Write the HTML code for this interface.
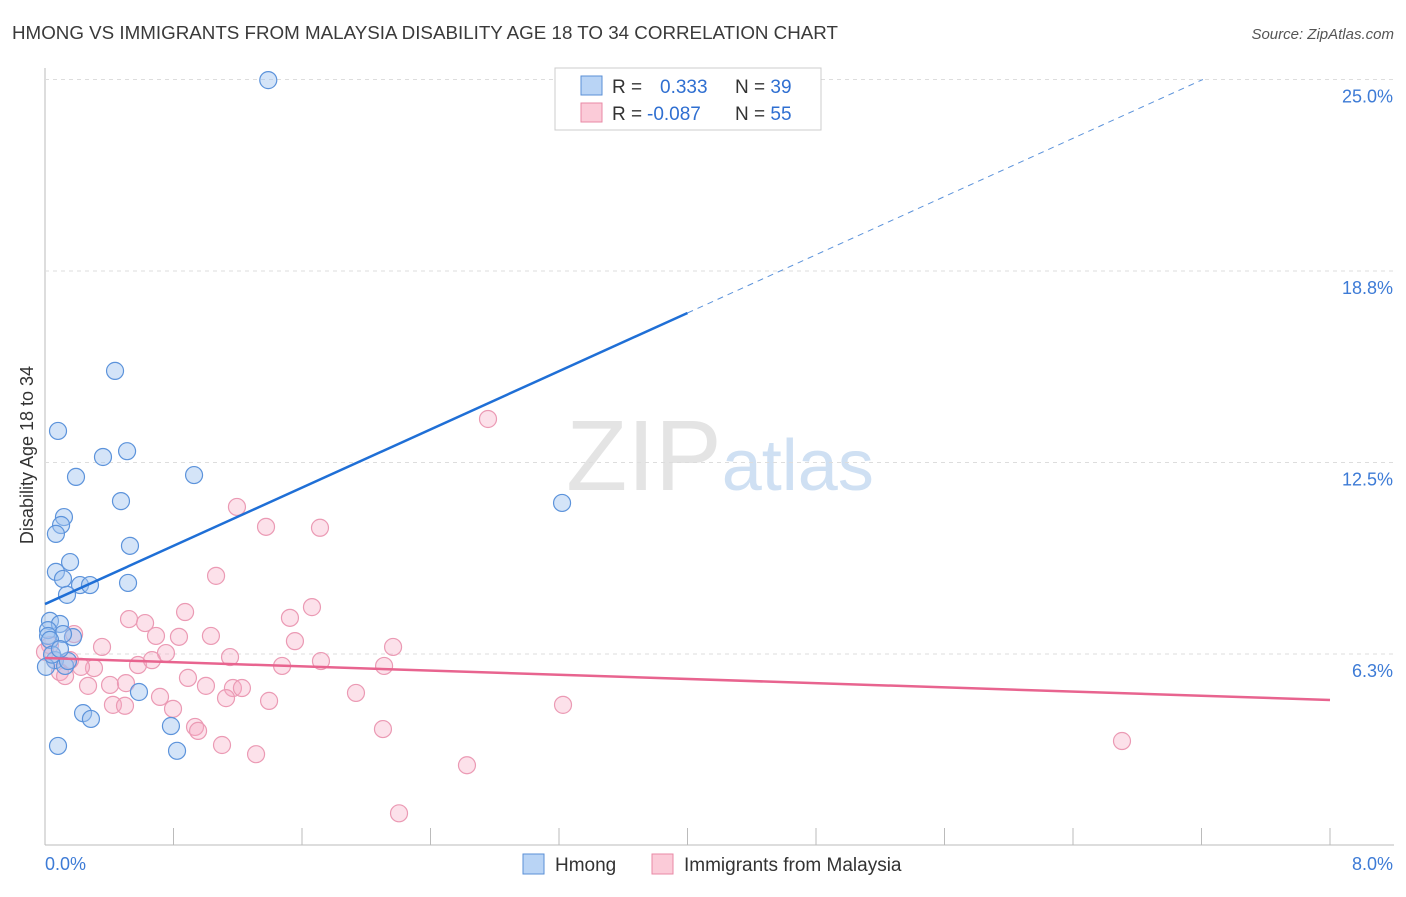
<!DOCTYPE html>
<html><head><meta charset="utf-8"><style>
body{margin:0;background:#fff;font-family:"Liberation Sans",sans-serif;}
svg text{font-family:"Liberation Sans",sans-serif;}
</style></head><body>
<svg id="chart" width="1406" height="892" xmlns="http://www.w3.org/2000/svg">
<text x="12" y="39" font-size="18" fill="#3a3a3a" textLength="826" lengthAdjust="spacingAndGlyphs">HMONG VS IMMIGRANTS FROM MALAYSIA DISABILITY AGE 18 TO 34 CORRELATION CHART</text>
<text x="1394" y="39" font-size="15" fill="#555" text-anchor="end" font-style="italic">Source: ZipAtlas.com</text>
<text x="720" y="490" font-size="100" fill="#e4e4e4" text-anchor="middle" font-family="Liberation Serif">ZIP<tspan fill="#cfe0f3" font-family="Liberation Sans" font-size="72">atlas</tspan></text>
<text transform="translate(33,455) rotate(-90)" font-size="18" fill="#333" text-anchor="middle">Disability Age 18 to 34</text>
<g id="grid"></g><g id="marks"></g>
<g>
<rect x="555" y="68" width="266" height="62" fill="#fff" stroke="#ccc"/>
<rect x="581" y="76" width="21" height="19" fill="#b9d4f5" stroke="#5a8fd6"/>
<rect x="581" y="103" width="21" height="19" fill="#fbcbd8" stroke="#e88aa6"/>
<text x="612" y="93" font-size="19" fill="#333">R = <tspan fill="#2f6fd1" x="660">0.333</tspan><tspan x="735" fill="#333">N = </tspan><tspan fill="#2f6fd1">39</tspan></text>
<text x="612" y="120" font-size="19" fill="#333">R = <tspan fill="#2f6fd1" x="647">-0.087</tspan><tspan x="735" fill="#333">N = </tspan><tspan fill="#2f6fd1">55</tspan></text>
</g>
<g>
<rect x="523" y="854" width="21" height="20" fill="#b9d4f5" stroke="#5a8fd6"/>
<text x="555" y="871" font-size="19" fill="#333">Hmong</text>
<rect x="652" y="854" width="21" height="20" fill="#fbcbd8" stroke="#e88aa6"/>
<text x="684" y="871" font-size="19" fill="#333">Immigrants from Malaysia</text>
</g>
</svg>
<script>
const xTicks=[0,0.8,1.6,2.4,3.2,4,4.8,5.6,6.4,7.2,8];
const yTicks=[6.25,12.5,18.75,25];
const yTickLabels=["6.3%","12.5%","18.8%","25.0%"];
const hmongX=[1.39,0.436,0.081,0.511,0.361,0.193,0.928,0.473,3.219,0.118,0.100,0.068,0.529,0.156,0.068,0.112,0.517,0.218,0.280,0.137,0.031,0.093,0.019,0.174,0.112,0.019,0.062,0.125,0.143,0.006,0.585,0.237,0.286,0.784,0.081,0.822,0.031,0.044,0.093];
const hmongY=[24.98,15.49,13.53,12.87,12.68,12.03,12.09,11.24,11.18,10.72,10.46,10.17,9.78,9.25,8.93,8.70,8.57,8.50,8.50,8.18,7.33,7.23,7.03,6.80,6.90,6.84,6.05,5.86,6.02,5.83,5.01,4.32,4.13,3.90,3.25,3.09,6.71,6.23,6.41];
const malX=[2.758,1.195,1.376,1.712,1.065,0.872,1.662,1.525,0.523,0.623,0.691,0.834,1.033,1.556,2.167,0.355,0.181,0.753,0.579,0.666,0.305,0.224,1.152,1.718,1.476,2.111,0.890,1.002,1.170,1.226,0.405,0.504,0.268,0.716,1.127,1.936,1.395,0.423,0.498,0.797,3.225,0.934,0.953,2.104,1.102,1.314,2.627,2.204,6.705,0.093,0.125,0.031,0.062,0.156,0.0];
const malY=[13.92,11.05,10.40,10.37,8.80,7.62,7.78,7.43,7.39,7.26,6.84,6.81,6.84,6.67,6.48,6.48,6.90,6.28,5.89,6.05,5.79,5.83,6.15,6.02,5.86,5.86,5.47,5.21,5.14,5.14,5.24,5.30,5.21,4.85,4.81,4.98,4.72,4.59,4.56,4.46,4.59,3.87,3.74,3.80,3.28,2.98,2.62,1.05,3.41,5.66,5.53,6.54,6.05,6.05,6.32];
const hmongFit=[7.88,17.38];  // at x=0 and x=4
const malFit=[6.12,4.75];    // at x=0 and x=8
const NS="http://www.w3.org/2000/svg";
const X=v=>45+v*160.625, Y=v=>845.5-v*30.64;
function mk(tag,a,parent){const e=document.createElementNS(NS,tag);for(const k in a)e.setAttribute(k,a[k]);parent.appendChild(e);return e;}
const grid=document.getElementById('grid'), marks=document.getElementById('marks');
let ax=mk('line',{x1:45,y1:68,x2:45,y2:845,stroke:'#bbb'},grid);

let bx=mk('line',{x1:45,y1:845,x2:1394,y2:845,stroke:'#bbb'},grid);

xTicks.forEach(t=>{const l=mk('line',{x1:X(t),y1:828,x2:X(t),y2:845,stroke:'#bbb'},grid);
});
yTicks.forEach((t,i)=>{const l=mk('line',{x1:45,y1:Y(t),x2:1394,y2:Y(t),stroke:'#ddd','stroke-dasharray':'4,4'},grid);

const tx=mk('text',{x:1393,y:Y(t)+23,'font-size':18,fill:'#3d7bd6','text-anchor':'end'},grid);tx.textContent=yTickLabels[i];
});
let x0=mk('text',{x:45,y:870,'font-size':18,fill:'#3d7bd6'},grid);x0.textContent=xTicks[0].toFixed(1)+'%';

let x1=mk('text',{x:1393,y:870,'font-size':18,fill:'#3d7bd6','text-anchor':'end'},grid);x1.textContent=xTicks[xTicks.length-1].toFixed(1)+'%';

malX.forEach((v,i)=>{const c=mk('circle',{cx:X(v),cy:Y(malY[i]),r:8.5,fill:'rgba(246,170,195,0.35)',stroke:'#eb9ab4','stroke-width':1.2},marks);
});
hmongX.forEach((v,i)=>{const c=mk('circle',{cx:X(v),cy:Y(hmongY[i]),r:8.5,fill:'rgba(160,196,240,0.45)',stroke:'#5c93db','stroke-width':1.2},marks);
});
const slope=(hmongFit[1]-hmongFit[0])/4;
let hl=mk('line',{x1:X(0),y1:Y(hmongFit[0]),x2:X(4),y2:Y(hmongFit[1]),stroke:'#1f6fd6','stroke-width':2.5},marks);

const xe=(25-hmongFit[0])/slope;
let hd=mk('line',{x1:X(4),y1:Y(hmongFit[1]),x2:X(xe),y2:Y(25),stroke:'#5c93db','stroke-width':1,'stroke-dasharray':'6,5'},marks);

let ml=mk('line',{x1:X(0),y1:Y(malFit[0]),x2:X(8),y2:Y(malFit[1]),stroke:'#e8648f','stroke-width':2.5},marks);

</script>
</body></html>
